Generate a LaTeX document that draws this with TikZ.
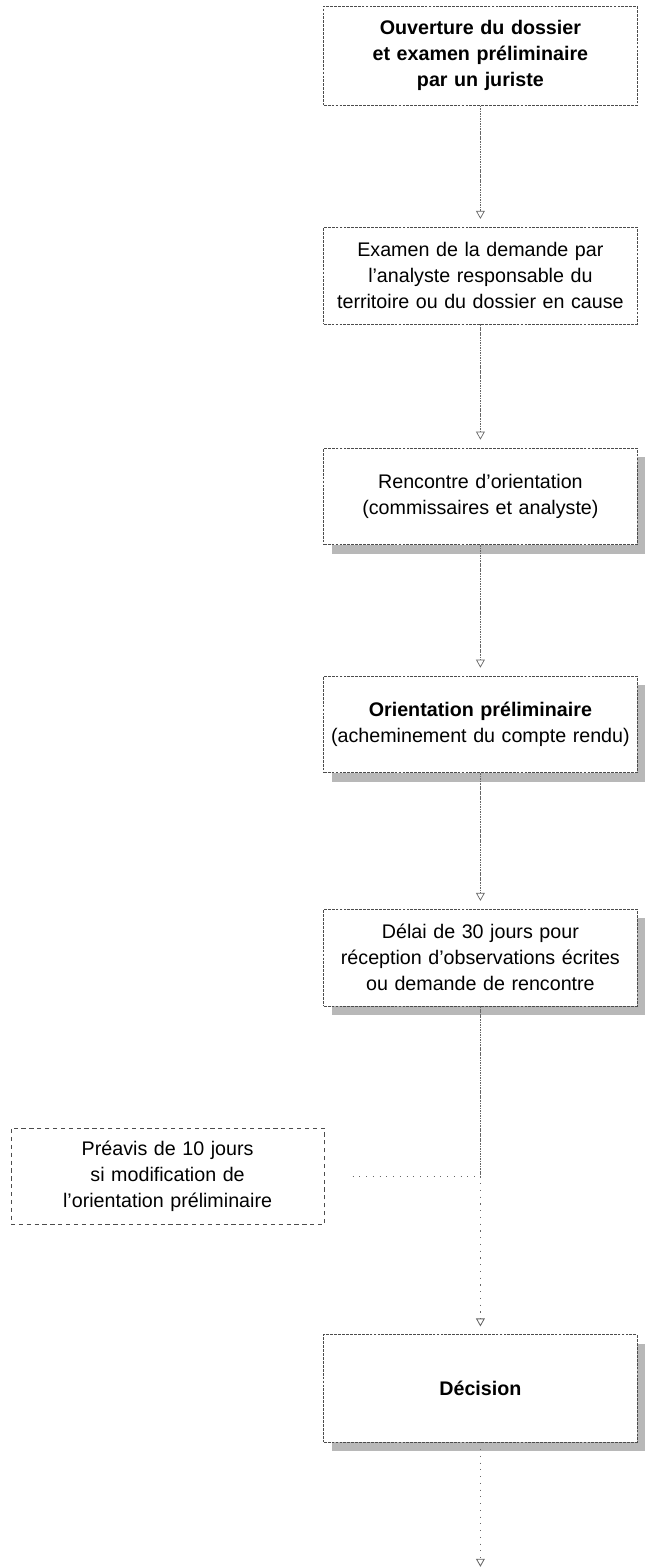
\documentclass[tikz,border=0pt]{standalone}
\usepackage{fontspec}
\setmainfont{Liberation Sans}
\usetikzlibrary{arrows.meta,shadows}
\tikzset{
  box/.style={draw=black!70, line width=0.5pt, dash pattern={on 2pt off 0.8pt}, align=center, text width=7.75cm, inner xsep=0.04cm, minimum height=2.42cm, font=\fontsize{14}{18.5}\selectfont},
  kshadow/.style={box, fill=white, drop shadow={shadow xshift=0.2cm, shadow yshift=-0.22cm, fill=black!28, opacity=1}},
  knote/.style={box, dash pattern={on 3pt off 2.6pt}},
  flow/.style={-{Triangle[open, length=2mm, width=2.2mm]}, draw=black!60, line width=0.5pt, dash pattern={on 1.2pt off 0.6pt}, shorten >=0.2cm},
  link/.style={draw=black!60, line width=0.5pt, dash pattern={on 1.2pt off 0.6pt}},
  sparse/.style={draw=black!60, line width=0.6pt, dash pattern={on 0.8pt off 4pt}},
}
\begin{document}
\begin{tikzpicture}
    \useasboundingbox (0,0) rectangle (16.15,-39.2);
    \node[box, font=\fontsize{14}{18.5}\selectfont\bfseries, minimum height=2.48cm] (open) at (12.01,-1.39) {Ouverture du dossier\\et examen préliminaire\\par un juriste};
    \node[box] (exam) at (12.01,-6.89) {Examen de la demande par\\l’analyste responsable du\\territoire ou du dossier en cause};
    \node[kshadow] (meet) at (12.01,-12.41) {Rencontre d’orientation\\(commissaires et analyste)};
    \node[kshadow] (prelim) at (12.01,-18.11) {\textbf{Orientation préliminaire}\\(acheminement du compte rendu)};
    \node[kshadow] (delay) at (12.01,-23.94) {Délai de 30 jours pour\\réception d’observations écrites\\ou demande de rencontre};
    \node[knote] (notice) at (4.19,-29.41) {Préavis de 10 jours\\si modification de\\l’orientation préliminaire};
    \node[kshadow, font=\fontsize{14}{18.5}\selectfont\bfseries, minimum height=2.68cm] (decide) at (12.01,-34.71) {Décision};
    \coordinate (join) at (12.01,-29.41);
    \coordinate (out) at (12.01,-39.17);
    \draw[flow] (open) -- (exam);
    \draw[flow] (exam) -- (meet);
    \draw[flow] (meet) -- (prelim);
    \draw[flow] (prelim) -- (delay);
    \draw[link] (delay) -- (join);
    \draw[sparse, shorten <=0.7cm] (notice) -- (join);
    \draw[flow, sparse] (join) -- (decide);
    \draw[flow, sparse, shorten >=0pt] (decide) -- (out);
\end{tikzpicture}
\end{document}
